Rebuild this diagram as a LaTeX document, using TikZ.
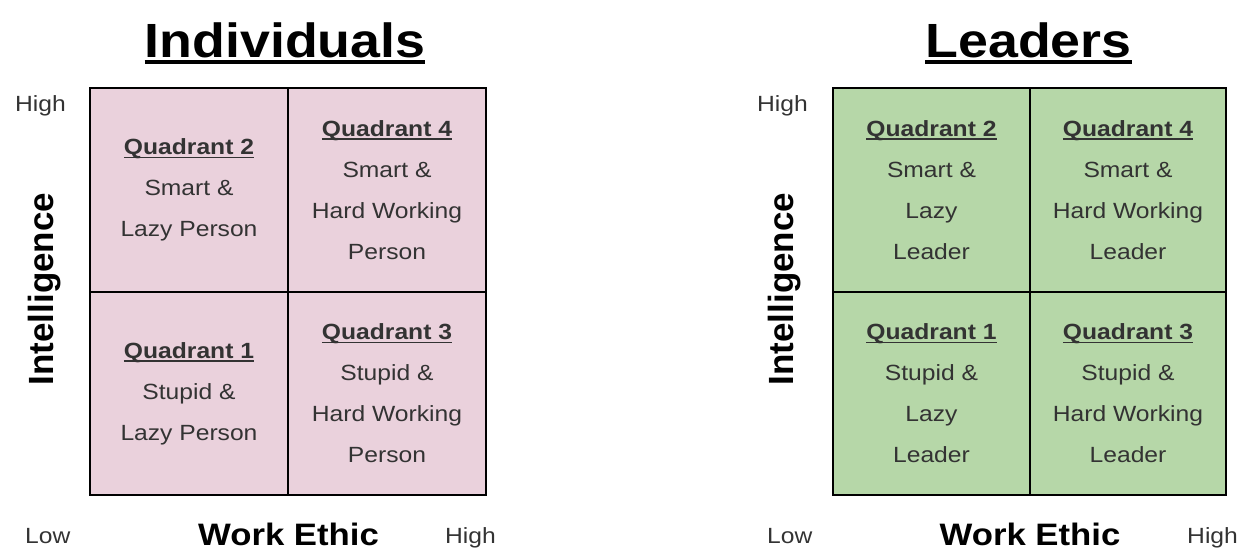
\documentclass[tikz,border=0pt]{standalone}
\usepackage{fontspec}
\setmainfont{Liberation Sans}[FakeStretch=1.12]
\newfontfamily\plainsans{Liberation Sans}
\newcommand\myul[3]{\setbox0=\hbox{#1}\leavevmode\rlap{\vrule height -#3 depth \dimexpr#3+#2\relax width \wd0}\box0}
\newcommand\qh[1]{\myul{\bfseries #1}{1.6pt}{2pt}}
\definecolor{pinkfill}{HTML}{EAD1DC}
\definecolor{greenfill}{HTML}{B6D7A8}
\definecolor{txt}{HTML}{333333}
\tikzset{
 cell/.style={draw=black,line width=2.4pt,inner sep=0pt,align=center,text=txt,font=\fontsize{22}{41}\selectfont},
 pinkcell/.style={cell,fill=pinkfill},
 greencell/.style={cell,fill=greenfill},
 titletext/.style={font=\bfseries\fontsize{48}{50}\selectfont,anchor=base,inner sep=0pt},
 axistext/.style={font=\bfseries\fontsize{31}{33}\selectfont,anchor=base,inner sep=0pt},
 vaxistext/.style={font=\plainsans\bfseries\fontsize{35}{37}\selectfont,rotate=90,anchor=base,inner sep=0pt},
 ticktext/.style={font=\fontsize{22}{24}\selectfont,text=txt,inner sep=0pt,anchor=base west},
}
\begin{document}
\begin{tikzpicture}[x=1pt,y=-1pt]
\useasboundingbox (0,0) rectangle (1245,550);
% ---- Individuals ----
\node[titletext] (t1) at (285,57) {\myul{Individuals}{4.5pt}{2.5pt}};
\node[pinkcell,minimum width=198pt,minimum height=204pt] (q2a) at (189,190) {\qh{Quadrant 2}\\Smart \&\\Lazy Person};
\node[pinkcell,minimum width=198pt,minimum height=204pt] (q4a) at (387,190) {\qh{Quadrant 4}\\Smart \&\\Hard Working\\Person};
\node[pinkcell,minimum width=198pt,minimum height=203pt] (q1a) at (189,393.5) {\qh{Quadrant 1}\\Stupid \&\\Lazy Person};
\node[pinkcell,minimum width=198pt,minimum height=203pt] (q3a) at (387,393.5) {\qh{Quadrant 3}\\Stupid \&\\Hard Working\\Person};
\node[vaxistext] (ya) at (53,289) {Intelligence};
\node[axistext] (xa) at (288.5,545) {Work Ethic};
\node[ticktext] (hia) at (15,111) {High};
\node[ticktext] (loa) at (25,543) {Low};
\node[ticktext] (hxa) at (445,543) {High};
% ---- Leaders ----
\node[titletext] (t2) at (1028.5,57) {\myul{Leaders}{4.5pt}{2.5pt}};
\node[greencell,minimum width=197pt,minimum height=204pt] (q2b) at (931.5,190) {\qh{Quadrant 2}\\Smart \&\\Lazy\\Leader};
\node[greencell,minimum width=196pt,minimum height=204pt] (q4b) at (1128,190) {\qh{Quadrant 4}\\Smart \&\\Hard Working\\Leader};
\node[greencell,minimum width=197pt,minimum height=203pt] (q1b) at (931.5,393.5) {\qh{Quadrant 1}\\Stupid \&\\Lazy\\Leader};
\node[greencell,minimum width=196pt,minimum height=203pt] (q3b) at (1128,393.5) {\qh{Quadrant 3}\\Stupid \&\\Hard Working\\Leader};
\node[vaxistext] (yb) at (793,289) {Intelligence};
\node[axistext] (xb) at (1030,545) {Work Ethic};
\node[ticktext] (hib) at (757,111) {High};
\node[ticktext] (lob) at (767,543) {Low};
\node[ticktext] (hxb) at (1187,543) {High};
\end{tikzpicture}
\end{document}
